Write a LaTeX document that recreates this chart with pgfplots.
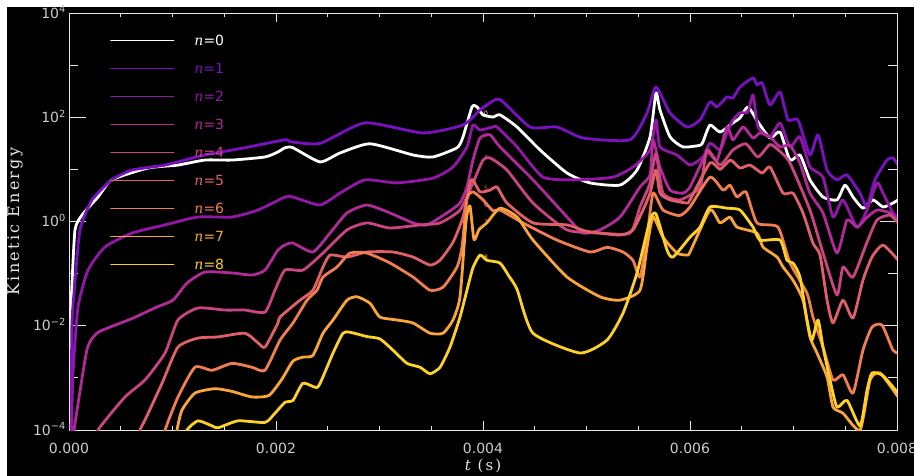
\documentclass[border=0pt]{standalone}
\usepackage{fontspec}
\setmainfont{DejaVu Sans}
\newfontfamily\labelfont{DejaVu Serif}[LetterSpace=14.0]
\newfontfamily\nfont{DejaVu Serif}
\usepackage{pgfplots}
\pgfplotsset{compat=1.18}

\definecolor{c0}{HTML}{FFFFFF}
\definecolor{c1}{HTML}{7A10C2}
\definecolor{c2}{HTML}{9416A8}
\definecolor{c3}{HTML}{B02A98}
\definecolor{c4}{HTML}{C94480}
\definecolor{c5}{HTML}{E0606A}
\definecolor{c6}{HTML}{F07E50}
\definecolor{c7}{HTML}{F9A53A}
\definecolor{c8}{HTML}{FDD126}
\definecolor{axisgray}{HTML}{E6E6E6}
\definecolor{labelgray}{HTML}{CCCCCC}

\pgfplotsset{
  energyframe/.style={
    scale only axis, width=828bp, height=417bp,
    at={(69bp,46bp)}, anchor=south west,
    xmin=0, xmax=0.008, ymin=1e-4, ymax=1e4,
    scaled x ticks=false,
    axis line style={draw=axisgray, line width=0.8bp},
    every tick/.style={draw=axisgray, line width=0.8bp},
    tick label style={font=\fontsize{14bp}{16bp}\selectfont, text=labelgray},
    tick align=inside,
  },
  ekline/.style={line width=2.8bp, line join=round, line cap=round, color=#1, smooth, tension=0.35},
}

\newcommand{\nlab}[2]{\textcolor{#1}{{\nfont\itshape n}=#2}}

\begin{document}
\begin{tikzpicture}
\path[use as bounding box, fill=white] (0,0) rectangle (914bp,476bp);
\fill[black] (7bp,0) rectangle (914bp,469bp);

% logarithmic energy scale: decade ticks with long marks
\begin{axis}[ymode=log, energyframe,
  xtick=\empty,
  ytick={1e-4,1e-2,1,1e2,1e4},
  yticklabels={10\textsuperscript{−4},10\textsuperscript{−2},10\textsuperscript{0},10\textsuperscript{2},10\textsuperscript{4}},
  minor ytick={1e-3,1e-1,1e1,1e3},
  major tick length=17bp, minor tick length=9bp,
  yticklabel style={anchor=base east, inner sep=0pt, xshift=-3bp, yshift=-5.1bp},
]
\end{axis}

% kinetic energy of the modes n = 0 ... 8
\begin{axis}[ymode=log, energyframe,
  ytick=\empty,
  xtick={0,0.002,0.004,0.006,0.008},
  xticklabels={0.000,0.002,0.004,0.006,0.008},
  minor x tick num=3,
  major tick length=9bp, minor tick length=4.5bp,
  xticklabel style={anchor=north, inner sep=0pt, yshift=-12.8bp},
  ylabel={Kinetic Energy},
  xlabel={{\itshape t} (s)},
  every axis y label/.style={at={(axis description cs:-0.0652,0.5)}, rotate=90, anchor=center,
    font=\fontsize{16bp}{18bp}\labelfont, text=axisgray},
  every axis x label/.style={at={(axis description cs:0.5,0)}, anchor=center, yshift=-36bp,
    font=\fontsize{15bp}{17bp}\labelfont, text=axisgray},
  legend style={draw=none, fill=none, at={(axis description cs:0.0495,1)}, anchor=north west,
    yshift=-22bp, font=\fontsize{14bp}{16bp}\selectfont, inner sep=0pt,
    row sep=17.7bp, column sep=20bp, nodes={inner sep=0pt, text depth=0pt}, cells={anchor=west}},
  legend image code/.code={\draw[#1, line width=1.3bp] (0bp,0bp) -- (63bp,0bp);},
]

\addplot[ekline=c0] coordinates {
(0,3e-5) (0.005e-3,1e-4) (0.015e-3,0.011) (0.026e-3,0.048) (0.058e-3,0.69) (0.126e-3,1.33)
(0.28e-3,2.95) (0.415e-3,6.3) (0.763e-3,10.6) (1.053e-3,12.1) (1.314e-3,15.1) (1.575e-3,15.1)
(1.894e-3,17.3) (2.019e-3,21.6) (2.087e-3,26) (2.164e-3,26) (2.425e-3,13.9) (2.618e-3,20.6)
(2.908e-3,31) (3.324e-3,18.9) (3.517e-3,17.3) (3.749e-3,26) (3.807e-3,42) (3.894e-3,158)
(3.942e-3,158) (4.0e-3,111) (4.097e-3,101) (4.164e-3,111) (4.329e-3,65) (4.551e-3,23.6)
(4.812e-3,8.5) (5.034e-3,5.5) (5.324e-3,5.0) (5.488e-3,9.7) (5.614e-3,42) (5.671e-3,292)
(5.71e-3,138) (5.807e-3,42) (5.932e-3,27) (6.097e-3,29) (6.126e-3,34) (6.193e-3,71)
(6.29e-3,52) (6.415e-3,78) (6.483e-3,97) (6.56e-3,158) (6.657e-3,81) (6.773e-3,40)
(6.87e-3,52) (6.966e-3,15.1) (7.063e-3,18.9) (7.159e-3,6.3) (7.285e-3,2.95) (7.42e-3,2.6)
(7.498e-3,5.0) (7.575e-3,2.95) (7.671e-3,1.8) (7.768e-3,2.6) (7.865e-3,1.9) (7.961e-3,2.26)
(8.01e-3,2.6)
};
\addlegendentry{\nlab{c0}{0}}

\addplot[ekline=c1] coordinates {
(0.005e-3,3e-5) (0.02e-3,1e-4) (0.028e-3,0.01) (0.051e-3,0.048) (0.106e-3,0.69) (0.222e-3,2.6)
(0.415e-3,6.3) (0.609e-3,9.7) (0.928e-3,12.1) (1.314e-3,18.9) (1.70e-3,26) (2.087e-3,37)
(2.135e-3,34) (2.425e-3,31.5) (2.86e-3,78) (3.42e-3,50) (3.807e-3,71) (3.971e-3,138)
(4.039e-3,172) (4.164e-3,220) (4.454e-3,65) (4.715e-3,65) (4.966e-3,40) (5.42e-3,37)
(5.585e-3,121) (5.671e-3,380) (5.807e-3,121) (5.971e-3,65) (6.097e-3,89) (6.193e-3,197)
(6.261e-3,158) (6.357e-3,245) (6.415e-3,234) (6.483e-3,380) (6.609e-3,568) (6.647e-3,417)
(6.696e-3,455) (6.773e-3,172) (6.87e-3,306) (6.947e-3,89) (7.043e-3,89) (7.159e-3,18.9)
(7.237e-3,46) (7.324e-3,9.7) (7.42e-3,6.3) (7.517e-3,7.8) (7.643e-3,3.5) (7.71e-3,1.9)
(7.787e-3,6.3) (7.903e-3,15.1) (7.961e-3,16.6) (8.01e-3,12.1)
};
\addlegendentry{\nlab{c1}{1}}

\addplot[ekline=c2] coordinates {
(0.02e-3,5e-5) (0.039e-3,0.00124) (0.087e-3,0.0229) (0.184e-3,0.117) (0.348e-3,0.324)
(0.609e-3,0.6) (0.928e-3,0.86) (1.246e-3,1.22) (1.575e-3,1.22) (1.826e-3,1.66) (2.087e-3,2.95)
(2.164e-3,2.95) (2.425e-3,2.07) (2.618e-3,3.5) (2.86e-3,6.3) (3.169e-3,5.5) (3.517e-3,6.8)
(3.71e-3,11.1) (3.845e-3,27) (3.903e-3,71) (3.971e-3,57) (4.097e-3,65) (4.135e-3,65)
(4.329e-3,27) (4.58e-3,7.1) (4.908e-3,6.3) (5.256e-3,7.1) (5.449e-3,11.1) (5.614e-3,23.6)
(5.671e-3,89) (5.71e-3,27) (5.874e-3,18.9) (6.0e-3,12.1) (6.126e-3,17.3) (6.193e-3,32)
(6.29e-3,23.6) (6.357e-3,50) (6.415e-3,89) (6.483e-3,121) (6.56e-3,126) (6.609e-3,268)
(6.657e-3,65) (6.773e-3,42) (6.87e-3,78) (6.966e-3,27) (7.063e-3,42) (7.159e-3,11.1)
(7.285e-3,7.1) (7.382e-3,1.22) (7.478e-3,2.6) (7.614e-3,0.78) (7.71e-3,1.66) (7.807e-3,5.5)
(7.865e-3,3.5) (7.961e-3,1.46) (8.01e-3,1.17)
};
\addlegendentry{\nlab{c2}{2}}

\addplot[ekline=c3] coordinates {
(0.025e-3,5e-5) (0.048e-3,1e-4) (0.174e-3,0.0035) (0.27e-3,0.0072) (0.396e-3,0.0094)
(0.618e-3,0.014) (0.85e-3,0.0229) (1.005e-3,0.0311) (1.14e-3,0.066) (1.314e-3,0.107)
(1.575e-3,0.103) (1.768e-3,0.094) (1.894e-3,0.117) (2.019e-3,0.284) (2.087e-3,0.354)
(2.164e-3,0.386) (2.357e-3,0.26) (2.522e-3,0.6) (2.686e-3,1.46) (2.879e-3,2.07) (3.101e-3,1.46)
(3.324e-3,0.94) (3.459e-3,0.86) (3.652e-3,1.46) (3.778e-3,2.26) (3.845e-3,4.6) (3.903e-3,15.1)
(3.971e-3,40) (4.068e-3,46) (4.164e-3,27) (4.483e-3,6.3) (4.812e-3,1.22) (4.966e-3,0.6)
(5.13e-3,0.69) (5.324e-3,1.22) (5.517e-3,4.6) (5.614e-3,7.8) (5.643e-3,37) (5.71e-3,11.1)
(5.807e-3,4.0) (5.932e-3,3.5) (6.0e-3,4.6) (6.164e-3,20.6) (6.261e-3,15) (6.357e-3,65)
(6.415e-3,37) (6.512e-3,65) (6.609e-3,40) (6.676e-3,50) (6.773e-3,42) (6.87e-3,27)
(6.966e-3,29) (7.063e-3,13) (7.159e-3,3.5) (7.285e-3,1.46) (7.42e-3,0.248) (7.517e-3,1.07)
(7.614e-3,0.78) (7.71e-3,1.2) (7.807e-3,1.66) (7.932e-3,1.46) (8.01e-3,1.0)
};
\addlegendentry{\nlab{c3}{3}}

\addplot[ekline=c4] coordinates {
(0.26e-3,5e-5) (0.28e-3,1e-4) (0.541e-3,0.00043) (0.734e-3,0.00091) (0.928e-3,0.003)
(1.053e-3,0.0129) (1.246e-3,0.0219) (1.507e-3,0.02) (1.70e-3,0.02) (1.894e-3,0.0183)
(1.99e-3,0.048) (2.087e-3,0.117) (2.261e-3,0.117) (2.454e-3,0.248) (2.686e-3,0.69)
(2.879e-3,0.94) (3.101e-3,0.75) (3.391e-3,0.86) (3.585e-3,0.94) (3.778e-3,1.66) (3.903e-3,5.5)
(4.0e-3,15.1) (4.068e-3,16.6) (4.232e-3,9.7) (4.483e-3,2.26) (4.812e-3,0.69) (5.13e-3,0.6)
(5.42e-3,0.6) (5.517e-3,1.9) (5.614e-3,5.5) (5.671e-3,20) (5.739e-3,3.5) (5.903e-3,2.6)
(6.097e-3,4.6) (6.164e-3,23.6) (6.29e-3,12.1) (6.415e-3,23.6) (6.54e-3,31) (6.657e-3,17.3)
(6.773e-3,30) (6.87e-3,22) (6.966e-3,13.3) (7.159e-3,1.66) (7.285e-3,0.248) (7.42e-3,0.039)
(7.478e-3,0.134) (7.575e-3,0.086) (7.71e-3,0.40) (7.807e-3,1.07) (7.932e-3,1.33) (8.01e-3,0.94)
};
\addlegendentry{\nlab{c4}{4}}

\addplot[ekline=c5] coordinates {
(0.66e-3,5e-5) (0.686e-3,1e-4) (0.734e-3,0.000155) (0.899e-3,0.00079) (1.053e-3,0.0039)
(1.246e-3,0.0058) (1.44e-3,0.0061) (1.70e-3,0.0072) (1.826e-3,0.0047) (1.894e-3,0.0039)
(2.019e-3,0.0113) (2.039e-3,0.0147) (2.232e-3,0.031) (2.357e-3,0.048) (2.454e-3,0.134)
(2.522e-3,0.227) (2.686e-3,0.208) (2.879e-3,0.26) (3.13e-3,0.26) (3.324e-3,0.208)
(3.488e-3,0.146) (3.585e-3,0.182) (3.71e-3,0.40) (3.807e-3,1.22) (3.874e-3,5.5) (3.903e-3,6.3)
(3.971e-3,3.7) (4.068e-3,4.0) (4.135e-3,4.6) (4.232e-3,2.26) (4.483e-3,0.94) (4.812e-3,0.86)
(5.0e-3,0.65) (5.324e-3,0.55) (5.449e-3,0.69) (5.546e-3,1.66) (5.614e-3,3.5) (5.671e-3,9.7)
(5.71e-3,3.5) (5.807e-3,2.6) (5.971e-3,2.26) (6.0e-3,2.6) (6.193e-3,13.3) (6.29e-3,10)
(6.39e-3,15.1) (6.483e-3,10.6) (6.58e-3,12.1) (6.696e-3,8.5) (6.773e-3,11.1) (6.899e-3,3.5)
(6.995e-3,3.5) (7.092e-3,1.46) (7.188e-3,0.386) (7.256e-3,0.227) (7.324e-3,0.031)
(7.382e-3,0.0113) (7.478e-3,0.031) (7.575e-3,0.014) (7.671e-3,0.075) (7.758e-3,0.208)
(7.865e-3,0.354) (8.01e-3,0.182)
};
\addlegendentry{\nlab{c5}{5}}

\addplot[ekline=c6] coordinates {
(0.90e-3,5e-5) (0.928e-3,1e-4) (1.053e-3,0.00043) (1.217e-3,0.0016) (1.382e-3,0.0014)
(1.575e-3,0.0019) (1.768e-3,0.0016) (1.894e-3,0.0014) (2.039e-3,0.0053) (2.164e-3,0.0113)
(2.30e-3,0.031) (2.396e-3,0.048) (2.454e-3,0.086) (2.589e-3,0.134) (2.715e-3,0.248)
(2.879e-3,0.248) (3.101e-3,0.16) (3.324e-3,0.086) (3.488e-3,0.048) (3.614e-3,0.055)
(3.749e-3,0.134) (3.797e-3,0.324) (3.845e-3,2.7) (3.903e-3,3.7) (4.0e-3,2.6) (4.097e-3,1.6)
(4.164e-3,1.66) (4.386e-3,0.94) (4.715e-3,0.44) (5.034e-3,0.26) (5.198e-3,0.32) (5.353e-3,0.26)
(5.449e-3,0.18) (5.517e-3,0.086) (5.585e-3,0.5) (5.643e-3,3.5) (5.739e-3,1.66) (5.9e-3,1.3)
(6.0e-3,1.9) (6.193e-3,7.1) (6.319e-3,4.0) (6.386e-3,5.0) (6.454e-3,2.95) (6.541e-3,3.7)
(6.647e-3,0.94) (6.85e-3,0.78) (6.966e-3,0.16) (7.13e-3,0.042) (7.188e-3,0.0147)
(7.285e-3,0.0039) (7.382e-3,0.00091) (7.478e-3,0.00115) (7.575e-3,0.00051) (7.671e-3,0.0034)
(7.758e-3,0.0094) (7.855e-3,0.0103) (7.961e-3,0.0034) (8.01e-3,0.003)
};
\addlegendentry{\nlab{c6}{6}}

\addplot[ekline=c7] coordinates {
(1.02e-3,5e-5) (1.043e-3,1e-4) (1.091e-3,0.00024) (1.217e-3,0.00051) (1.411e-3,0.00062)
(1.575e-3,0.00055) (1.768e-3,0.00043) (1.932e-3,0.00046) (2.058e-3,0.00095) (2.164e-3,0.0021)
(2.261e-3,0.0025) (2.357e-3,0.0027) (2.454e-3,0.0072) (2.551e-3,0.0129) (2.686e-3,0.031)
(2.783e-3,0.036) (2.908e-3,0.027) (3.004e-3,0.0147) (3.169e-3,0.0129) (3.324e-3,0.0113)
(3.488e-3,0.0072) (3.614e-3,0.0072) (3.71e-3,0.0129) (3.778e-3,0.036) (3.836e-3,1.0)
(3.874e-3,2.0) (3.913e-3,0.45) (3.962e-3,0.7) (4.039e-3,0.95) (4.164e-3,1.8) (4.329e-3,1.22)
(4.483e-3,0.44) (4.812e-3,0.086) (5.13e-3,0.036) (5.324e-3,0.031) (5.517e-3,0.048)
(5.585e-3,0.324) (5.643e-3,1.22) (5.739e-3,0.5) (5.874e-3,0.248) (5.971e-3,0.227) (6.0e-3,0.26)
(6.193e-3,1.66) (6.29e-3,0.94) (6.386e-3,1.22) (6.454e-3,0.78) (6.647e-3,0.6) (6.705e-3,0.324)
(6.841e-3,0.208) (6.899e-3,0.134) (6.995e-3,0.075) (7.092e-3,0.031) (7.159e-3,0.0061)
(7.227e-3,0.003) (7.324e-3,0.00104) (7.382e-3,0.000275) (7.478e-3,0.00021) (7.643e-3,0.0001)
(7.74e-3,0.00091) (7.836e-3,0.00124) (8.01e-3,0.00043)
};
\addlegendentry{\nlab{c7}{7}}

\addplot[ekline=c8] coordinates {
(1.10e-3,5e-5) (1.14e-3,1e-4) (1.246e-3,0.00015) (1.382e-3,0.00012) (1.44e-3,0.00011)
(1.633e-3,0.00015) (1.894e-3,0.00014) (1.99e-3,0.00021) (2.087e-3,0.00034) (2.164e-3,0.00037)
(2.261e-3,0.00079) (2.396e-3,0.00065) (2.454e-3,0.00105) (2.551e-3,0.003) (2.647e-3,0.0072)
(2.715e-3,0.0075) (2.879e-3,0.0062) (3.004e-3,0.0056) (3.13e-3,0.0034) (3.266e-3,0.0019)
(3.391e-3,0.0016) (3.488e-3,0.0012) (3.585e-3,0.0016) (3.681e-3,0.0039) (3.778e-3,0.0147)
(3.845e-3,0.048) (3.903e-3,0.13) (3.971e-3,0.227) (4.039e-3,0.18) (4.164e-3,0.16) (4.25e-3,0.09)
(4.329e-3,0.05) (4.483e-3,0.0072) (4.937e-3,0.003) (5.198e-3,0.0053) (5.353e-3,0.0175)
(5.488e-3,0.103) (5.614e-3,1.07) (5.671e-3,1.4) (5.778e-3,0.284) (5.836e-3,0.208) (6.0e-3,0.50)
(6.097e-3,0.78) (6.193e-3,1.9) (6.357e-3,1.8) (6.483e-3,1.66) (6.609e-3,0.78) (6.676e-3,0.44)
(6.87e-3,0.44) (6.937e-3,0.18) (6.995e-3,0.16) (7.063e-3,0.086) (7.13e-3,0.0129)
(7.178e-3,0.0053) (7.237e-3,0.0129) (7.285e-3,0.0039) (7.353e-3,0.00091) (7.42e-3,0.000275)
(7.517e-3,0.00037) (7.643e-3,0.00012) (7.71e-3,0.00058) (7.758e-3,0.00124) (7.865e-3,0.0011)
(8.01e-3,0.00051)
};
\addlegendentry{\nlab{c8}{8}}

% small mode numbers beside the first burst
\begin{scope}[every node/.style={font=\fontsize{6bp}{7bp}\selectfont, inner sep=0pt}]
\node[text=c1] at (axis cs:4.03e-3,172) {1};
\node[text=c0] at (axis cs:4.03e-3,121) {0};
\node[text=c3] at (axis cs:4.03e-3,46) {3};
\node[text=c4] at (axis cs:4.03e-3,17.3) {4};
\node[text=c5] at (axis cs:4.03e-3,4.4) {5};
\node[text=c6] at (axis cs:4.03e-3,2.07) {6};
\node[text=c7] at (axis cs:4.03e-3,0.98) {7};
\node[text=c8] at (axis cs:4.03e-3,0.208) {8};
\end{scope}
\end{axis}
\end{tikzpicture}
\end{document}
